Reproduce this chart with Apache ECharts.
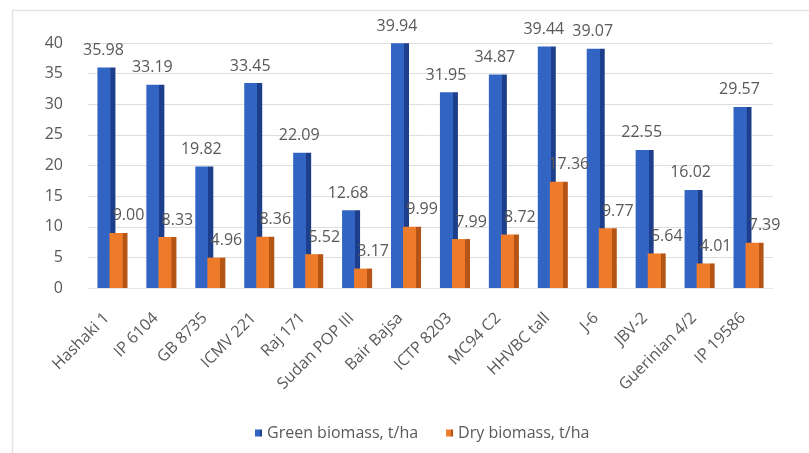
<!DOCTYPE html>
<html>
<head>
<meta charset="utf-8">
<script src="https://cdn.jsdelivr.net/npm/echarts@6/dist/echarts.min.js"></script>
<style>
  html, body { margin: 0; padding: 0; background: #fff; }
  #chart { width: 809px; height: 453px; }
</style>
</head>
<body>
<div id="chart"></div>
<script>
const categories = ['Hashaki 1', 'IP 6104', 'GB 8735', 'ICMV 221', 'Raj 171', 'Sudan POP III', 'Bair Bajsa',
  'ICTP 8203', 'MC94 C2', 'HHVBC tall', 'J-6', 'JBV-2', 'Guerinian 4/2', 'IP 19586']
const greenBiomass = [35.98, 33.19, 19.82, 33.45, 22.09, 12.68, 39.94, 31.95, 34.87, 39.44, 39.07, 22.55, 16.02, 29.57]
const dryBiomass = [9.00, 8.33, 4.96, 8.36, 5.52, 3.17, 9.99, 7.99, 8.72, 17.36, 9.77, 5.64, 4.01, 7.39]
const yTicks = [0, 5, 10, 15, 20, 25, 30, 35, 40]

const font = '"Open Sans", sans-serif'
const textColor = '#595959'

// flat colour with a darker strip on the right, like the 3D bars in the original
const shaded = (main, dark) => new echarts.graphic.LinearGradient(0, 0, 1, 0, [
  { offset: 0, color: main },
  { offset: 0.72, color: main },
  { offset: 0.73, color: dark },
  { offset: 1, color: dark }
])

const mychart = echarts.init(document.getElementById('chart'))
mychart.setOption({
  animation: false,
  graphic: [{
    type: 'rect',
    shape: { x: 12.5, y: 10.5, width: 820, height: 460 },
    style: { fill: 'none', stroke: '#e3e3e3', lineWidth: 1.5 },
    silent: true
  }],
  grid: {
    top: 43,
    left: 88,
    right: 36,
    bottom: 165
  },
  legend: {
    top: 420,
    left: 250,
    itemWidth: 7,
    itemHeight: 7,
    itemGap: 28,
    icon: 'rect',
    textStyle: { fontFamily: font, fontSize: 16, color: textColor }
  },
  xAxis: {
    type: 'category',
    data: categories,
    axisLine: { show: true, lineStyle: { color: '#e6e6e6' } },
    axisTick: { show: false },
    axisLabel: {
      rotate: 45,
      interval: 0,
      margin: 22,
      padding: [0, 8, 0, 0],
      fontFamily: font,
      fontSize: 16,
      color: textColor
    }
  },
  yAxis: {
    type: 'value',
    min: yTicks[0],
    max: yTicks[yTicks.length - 1],
    interval: 5,
    axisLine: { show: false },
    axisTick: { show: false },
    splitLine: { lineStyle: { color: '#dedede' } },
    axisLabel: {
      margin: 25,
      fontFamily: font,
      fontSize: 16,
      color: textColor,
      padding: [8, 0, 0, 0]
    }
  },
  series: [{
    name: 'Green biomass, t/ha',
    type: 'bar',
    data: greenBiomass,
    barWidth: 18,
    barGap: '-33%',
    itemStyle: { color: shaded('#3264c4', '#1d3e8a') },
    label: {
      show: true,
      position: 'top',
      distance: 9,
      offset: [-3, 0],
      formatter: p => p.value.toFixed(2),
      fontFamily: font,
      fontSize: 16,
      color: textColor
    }
  }, {
    name: 'Dry biomass, t/ha',
    type: 'bar',
    data: dryBiomass,
    barWidth: 18,
    itemStyle: { color: shaded('#ee7b2a', '#b45516') },
    label: {
      show: true,
      position: 'top',
      distance: 9,
      offset: [10, 0],
      formatter: p => p.value.toFixed(2),
      fontFamily: font,
      fontSize: 16,
      color: textColor
    }
  }]
})
</script>
</body>
</html>
